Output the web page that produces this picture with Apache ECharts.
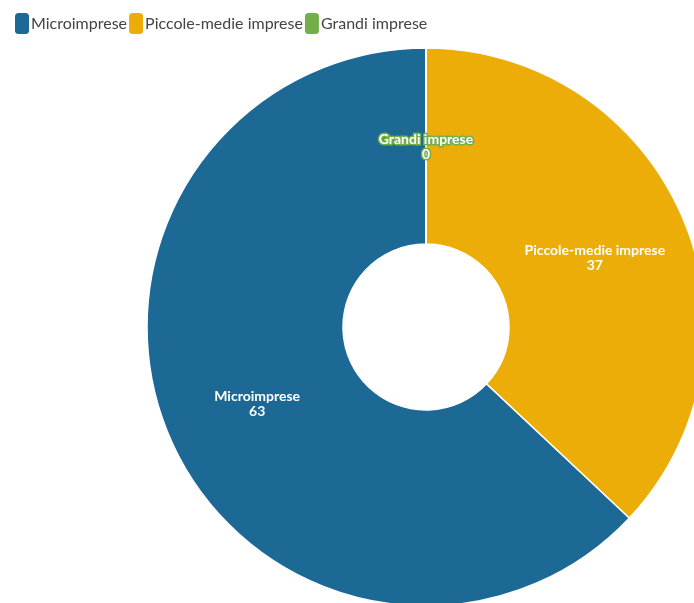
<!DOCTYPE html>
<html>
<head>
<meta charset="utf-8">
<script src="https://cdn.jsdelivr.net/npm/echarts@6/dist/echarts.min.js"></script>
<style>
html, body { margin: 0; padding: 0; background: #fff; }
#chart { width: 694px; height: 603px; }
</style>
</head>
<body>
<div id="chart"></div>
<script>
// Company size categories and their shares
const categories = ['Microimprese', 'Piccole-medie imprese', 'Grandi imprese'];
const values = [63, 37, 0];
const colors = ['#1D6996', '#EDAD08', '#73AF48'];

const chart = echarts.init(document.getElementById('chart'));

const pieData = categories.map((name, i) => ({
  name: name,
  value: values[i],
  itemStyle: { color: colors[i] },
  label: { textBorderColor: colors[i] }
}));

chart.setOption({
  animation: false,
  legend: {
    left: 10,
    top: 8,
    itemWidth: 14,
    itemHeight: 21,
    itemGap: 2,
    symbolKeepAspect: false,
    icon: 'path://M3,0 H9 A3,3 0 0 1 12,3 V15 A3,3 0 0 1 9,18 H3 A3,3 0 0 1 0,15 V3 A3,3 0 0 1 3,0 Z',
    itemStyle: { borderWidth: 0 },
    textStyle: { fontFamily: 'Lato', fontSize: 16, color: '#444', padding: [0, 0, 0, -3] },
    data: categories
  },
  series: [{
    type: 'pie',
    center: [426, 327],
    radius: [83, 279],
    startAngle: 90,
    clockwise: false,
    avoidLabelOverlap: false,
    itemStyle: { borderColor: '#fff', borderWidth: 1.5 },
    label: {
      show: true,
      position: 'inside',
      formatter: '{b}\n{c}',
      color: '#fff',
      fontFamily: 'Lato',
      fontWeight: 'bold',
      fontSize: 14,
      lineHeight: 15,
      offset: [0, 4],
      textBorderWidth: 3
    },
    labelLine: { show: false },
    data: pieData
  }]
});
</script>
</body>
</html>
